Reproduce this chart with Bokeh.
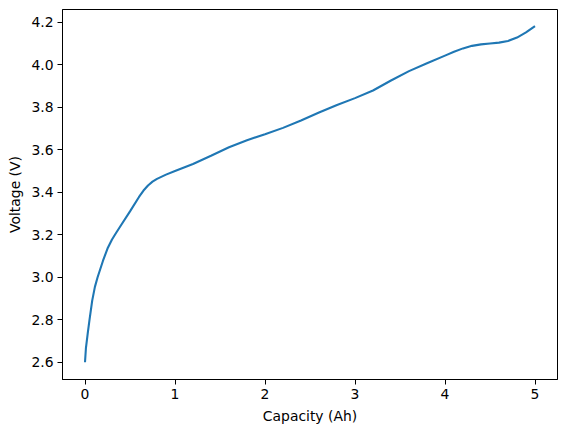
from bokeh.plotting import figure
from bokeh.models import FixedTicker, Range1d, PrintfTickFormatter
from bokeh.embed import file_html
from bokeh.resources import INLINE

capacity = [0.0, 0.01, 0.03, 0.05, 0.08, 0.11, 0.14, 0.2, 0.25, 0.3, 0.35, 0.4, 0.5, 0.6, 0.65, 0.7, 0.75, 0.8, 0.9, 1.0,
            1.2, 1.4, 1.6, 1.8, 2.0, 2.2, 2.4, 2.6, 2.8, 3.0, 3.2, 3.4, 3.6, 3.8, 4.0,
            4.1, 4.2, 4.3, 4.4, 4.5, 4.6, 4.7, 4.8, 4.9, 5.0]
voltage = [2.60, 2.665, 2.735, 2.80, 2.89, 2.955, 3.00, 3.078, 3.135, 3.178, 3.212, 3.245, 3.31, 3.378, 3.408, 3.432, 3.45, 3.463, 3.483, 3.50,
           3.533, 3.572, 3.612, 3.645, 3.673, 3.703, 3.738, 3.775, 3.811, 3.843, 3.879, 3.926, 3.970, 4.007, 4.043,
           4.061, 4.077, 4.089, 4.096, 4.100, 4.104, 4.112, 4.128, 4.152, 4.182]
x_ticks = [0, 1, 2, 3, 4, 5]
y_ticks = [2.6, 2.8, 3.0, 3.2, 3.4, 3.6, 3.8, 4.0, 4.2]

FONT = "DejaVu Sans"
FS = "13.9px"

p = figure(width=565, height=430, output_backend="svg", toolbar_location=None,
           x_range=Range1d(-0.25, 5.25), y_range=Range1d(2.519, 4.260),
           min_border_left=62, min_border_right=8, min_border_top=9, min_border_bottom=51)

p.line(capacity, voltage, line_color="#1f77b4", line_width=2.1)

p.grid.visible = False
p.outline_line_color = "black"
p.outline_line_width = 1
p.outline_line_alpha = 1
p.background_fill_color = "white"
p.border_fill_color = "white"

p.xaxis.ticker = FixedTicker(ticks=x_ticks)
p.yaxis.ticker = FixedTicker(ticks=y_ticks)
p.yaxis.formatter = PrintfTickFormatter(format="%.1f")
p.xaxis.axis_label = "Capacity (Ah)"
p.yaxis.axis_label = "Voltage (V)"

for ax in (p.xaxis, p.yaxis):
    ax.major_label_text_font = FONT
    ax.major_label_text_font_size = FS
    ax.major_label_text_color = "black"
    ax.axis_label_text_font = FONT
    ax.axis_label_text_font_size = FS
    ax.axis_label_text_font_style = "normal"
    ax.axis_label_text_color = "black"
    ax.minor_tick_line_color = None
    ax.major_tick_out = 5
    ax.major_tick_in = 0
    ax.major_tick_line_color = "black"
    ax.axis_line_color = "black"
    ax.major_label_standoff = 4

p.xaxis.axis_label_standoff = 6
p.yaxis.axis_label_standoff = 5

open("out.html", "w").write(file_html(p, INLINE))
